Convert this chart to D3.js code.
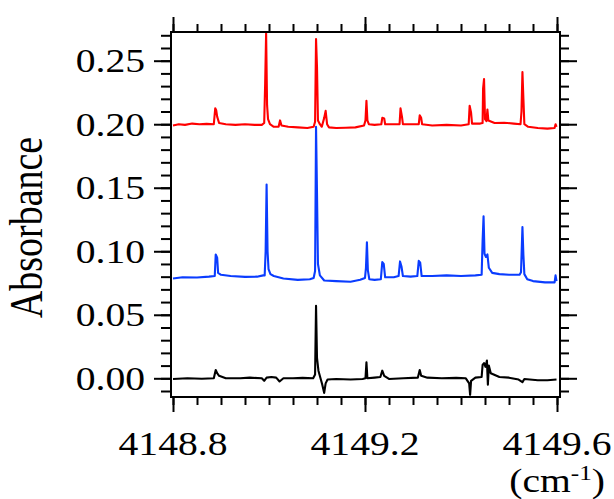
<!DOCTYPE html>
<meta charset="utf-8">
<style>
body { margin: 0; background: #fff; }
svg { display: block; }
.tick line { stroke: #000; stroke-width: 2; }
.lbl { font-family: "Liberation Serif", "Times New Roman", serif; fill: #000; }
.spec { fill: none; stroke-width: 2.1; stroke-linejoin: round; }
</style>
<svg width="614" height="499"></svg>
<script src="https://d3js.org/d3.v7.min.js"></script>
<script>

// spectra: [wavenumber (cm-1), absorbance]
var redSpectrum = [
  [4148.800,0.199],[4148.812,0.2],[4148.825,0.1995],[4148.84,0.2005],[4148.855,0.2],[4148.87,0.2003],[4148.885,0.2],
  [4148.888,0.2125],[4148.890,0.211],[4148.892,0.206],[4148.896,0.201],[4148.91,0.2],[4148.93,0.1995],[4148.95,0.2],
  [4148.97,0.1995],[4148.985,0.1995],[4148.990,0.201],[4148.992,0.232],[4148.994,0.2715],[4148.996,0.215],[4148.998,0.204],
  [4149.002,0.2],[4149.01,0.198],[4149.02,0.198],[4149.023,0.203],[4149.026,0.199],[4149.04,0.198],[4149.06,0.1975],
  [4149.08,0.197],[4149.093,0.198],[4149.096,0.202],[4149.098,0.267],[4149.100,0.245],[4149.102,0.203],[4149.106,0.2],
  [4149.110,0.198],[4149.115,0.205],[4149.118,0.2105],[4149.121,0.2],[4149.125,0.1975],[4149.14,0.197],[4149.16,0.1972],
  [4149.18,0.1975],[4149.198,0.199],[4149.201,0.203],[4149.203,0.2185],[4149.205,0.203],[4149.208,0.2],[4149.22,0.1995],
  [4149.234,0.2],[4149.236,0.205],[4149.240,0.2045],[4149.242,0.2],[4149.26,0.2],[4149.272,0.2],[4149.274,0.2125],
  [4149.277,0.206],[4149.279,0.2],[4149.29,0.2],[4149.312,0.2],[4149.314,0.207],[4149.317,0.205],[4149.319,0.2],
  [4149.34,0.199],[4149.37,0.1995],[4149.40,0.199],[4149.416,0.2],[4149.418,0.2145],[4149.421,0.209],[4149.423,0.2005],
  [4149.44,0.2005],[4149.445,0.201],[4149.446,0.228],[4149.448,0.2355],[4149.450,0.204],[4149.453,0.2025],[4149.455,0.2115],
  [4149.457,0.203],[4149.47,0.201],[4149.49,0.2012],[4149.51,0.2005],[4149.524,0.2],[4149.526,0.21],[4149.528,0.241],
  [4149.530,0.22],[4149.532,0.2],[4149.54,0.198],[4149.56,0.197],[4149.58,0.1965],[4149.595,0.197],[4149.597,0.2],[4149.599,0.198]
];

var blueSpectrum = [
  [4148.800,0.0785],[4148.82,0.0795],[4148.85,0.0793],[4148.875,0.08],[4148.887,0.0805],[4148.889,0.0975],[4148.892,0.095],
  [4148.894,0.083],[4148.9,0.0815],[4148.92,0.0805],[4148.95,0.0798],[4148.975,0.08],[4148.988,0.081],[4148.991,0.081],
  [4148.993,0.1],[4148.995,0.1525],[4148.997,0.1],[4148.999,0.086],[4149.003,0.082],[4149.01,0.0805],[4149.03,0.0785],
  [4149.06,0.0775],[4149.085,0.078],[4149.093,0.079],[4149.096,0.0845],[4149.098,0.198],[4149.100,0.146],[4149.102,0.09],
  [4149.106,0.081],[4149.115,0.077],[4149.14,0.0765],[4149.17,0.076],[4149.19,0.0775],[4149.200,0.079],[4149.202,0.087],
  [4149.204,0.107],[4149.206,0.085],[4149.209,0.078],[4149.22,0.0775],[4149.233,0.078],[4149.236,0.0915],[4149.239,0.09],
  [4149.242,0.0795],[4149.26,0.0795],[4149.270,0.0805],[4149.273,0.092],[4149.276,0.088],[4149.279,0.0805],[4149.295,0.08],
  [4149.309,0.0805],[4149.312,0.0925],[4149.315,0.091],[4149.318,0.0805],[4149.34,0.0805],[4149.37,0.081],[4149.40,0.0805],
  [4149.43,0.081],[4149.443,0.0815],[4149.445,0.108],[4149.447,0.1275],[4149.449,0.098],[4149.452,0.0955],[4149.455,0.0975],
  [4149.458,0.087],[4149.465,0.083],[4149.48,0.082],[4149.50,0.0815],[4149.522,0.0815],[4149.525,0.0835],[4149.528,0.119],
  [4149.530,0.097],[4149.532,0.082],[4149.538,0.078],[4149.55,0.0765],[4149.575,0.0755],[4149.595,0.0755],[4149.597,0.081],
  [4149.599,0.0765]
];

var blackSpectrum = [
  [4148.800,-0.0005],[4148.83,0],[4148.86,-0.0003],[4148.885,0],[4148.889,0.0065],[4148.892,0.004],[4148.896,0.002],
  [4148.91,0],[4148.94,0],[4148.96,0.0005],[4148.985,0],[4148.990,-0.002],[4148.995,0.0005],[4149.005,0.001],
  [4149.015,0.0005],[4149.022,-0.0025],[4149.03,0],[4149.05,0],[4149.07,0.0003],[4149.092,0],[4149.096,0.003],
  [4149.098,0.057],[4149.100,0.016],[4149.103,0.006],[4149.107,0.0005],[4149.111,-0.005],[4149.115,-0.0115],
  [4149.118,-0.004],[4149.122,-0.001],[4149.14,-0.0005],[4149.17,-0.001],[4149.195,-0.0005],[4149.201,0],
  [4149.203,0.0125],[4149.205,0],[4149.22,0.0005],[4149.232,0.001],[4149.236,0.006],[4149.240,0.002],[4149.25,-0.0005],
  [4149.28,0],[4149.31,0.0005],[4149.314,0.0065],[4149.317,0.002],[4149.33,0.0005],[4149.36,0],[4149.39,0.0003],
  [4149.41,0],[4149.417,-0.004],[4149.419,-0.013],[4149.421,-0.002],[4149.43,0.0005],[4149.443,0.001],[4149.445,0.0105],
  [4149.448,0.012],[4149.451,0.009],[4149.454,0.014],[4149.456,-0.005],[4149.458,0.01],[4149.462,0.004],[4149.48,0.001],
  [4149.5,0.0005],[4149.52,-0.001],[4149.528,-0.003],[4149.532,-0.0005],[4149.56,-0.0015],[4149.58,-0.0015],[4149.599,-0.001]
];

var xMajor = [4148.8, 4149.2, 4149.6];
var xLabels = ["4148.8", "4149.2", "4149.6"];
var yMajor = [0, 0.05, 0.10, 0.15, 0.20, 0.25];
var yLabels = ["0.00", "0.05", "0.10", "0.15", "0.20", "0.25"];

var svg = d3.select("svg");

// plot frame
var frameL = 171, frameR = 560, frameT = 32, frameB = 397;

var x = d3.scaleLinear().domain([4148.8, 4149.6]).range([173, 557]);
var y = d3.scaleLinear().domain([0, 0.25]).range([378.3, 60.7]);

var xMinor = d3.range(0, 17).map(function(i) { return 4148.8 + i * 0.05; });
var yMinor = d3.range(-1, 28).map(function(i) { return i * 0.01; });

function ticksOnly(axis, g) {
  g.call(axis.tickFormat(""));
  g.select(".domain").remove();
}

// bottom
ticksOnly(d3.axisBottom(x).tickValues(xMinor).tickSize(8), svg.append("g").attr("transform", "translate(0," + frameB + ")"));
ticksOnly(d3.axisBottom(x).tickValues(xMajor).tickSize(15), svg.append("g").attr("transform", "translate(0," + frameB + ")"));
// top
ticksOnly(d3.axisTop(x).tickValues(xMinor).tickSize(8), svg.append("g").attr("transform", "translate(0," + frameT + ")"));
ticksOnly(d3.axisTop(x).tickValues(xMajor).tickSize(15), svg.append("g").attr("transform", "translate(0," + frameT + ")"));
// left
ticksOnly(d3.axisLeft(y).tickValues(yMinor).tickSize(10), svg.append("g").attr("transform", "translate(" + frameL + ",0)"));
ticksOnly(d3.axisLeft(y).tickValues(yMajor).tickSize(17), svg.append("g").attr("transform", "translate(" + frameL + ",0)"));
// right
ticksOnly(d3.axisRight(y).tickValues(yMinor).tickSize(9), svg.append("g").attr("transform", "translate(" + frameR + ",0)"));
ticksOnly(d3.axisRight(y).tickValues(yMajor).tickSize(17), svg.append("g").attr("transform", "translate(" + frameR + ",0)"));

svg.append("clipPath").attr("id", "clip")
  .append("rect")
  .attr("x", frameL).attr("y", frameT)
  .attr("width", frameR - frameL).attr("height", frameB - frameT);

var line = d3.line()
  .x(function(d) { return x(d[0]); })
  .y(function(d) { return y(d[1]); });

var plot = svg.append("g").attr("clip-path", "url(#clip)");

plot.append("path").datum(blackSpectrum).attr("class", "spec").attr("stroke", "#000").attr("d", line);
plot.append("path").datum(blueSpectrum).attr("class", "spec").attr("stroke", "#0a3cff").attr("d", line);
plot.append("path").datum(redSpectrum).attr("class", "spec").attr("stroke", "#ff0000").attr("d", line);

svg.append("rect")
  .attr("x", frameL).attr("y", frameT)
  .attr("width", frameR - frameL).attr("height", frameB - frameT)
  .attr("fill", "none").attr("stroke", "#000").attr("stroke-width", 2);

// tick labels (font is horizontally stretched in the original)
svg.selectAll(".ylbl")
  .data(yMajor)
  .enter().append("text")
    .attr("class", "lbl")
    .attr("font-size", 33)
    .attr("text-anchor", "end")
    .attr("transform", function(d) { return "translate(145," + (y(d) + 11.5) + ") scale(1.2,1)"; })
    .text(function(d, i) { return yLabels[i]; });

svg.selectAll(".xlbl")
  .data(xMajor)
  .enter().append("text")
    .attr("class", "lbl")
    .attr("font-size", 33)
    .attr("text-anchor", "middle")
    .attr("transform", function(d) { return "translate(" + x(d) + ",455) scale(1.2,1)"; })
    .text(function(d, i) { return xLabels[i]; });

svg.append("text")
  .attr("class", "lbl")
  .attr("font-size", 38)
  .attr("text-anchor", "middle")
  .attr("transform", "translate(42,227.5) scale(1.2,1) rotate(-90)")
  .text("Absorbance");

var unit = svg.append("text")
  .attr("class", "lbl")
  .attr("font-size", 33)
  .attr("text-anchor", "end")
  .attr("transform", "translate(605,492) scale(1.2,1)");
unit.append("tspan").text("(cm");
unit.append("tspan").attr("font-size", 21).attr("dy", -12).text("-1");
unit.append("tspan").attr("dy", 12).text(")");

</script>
